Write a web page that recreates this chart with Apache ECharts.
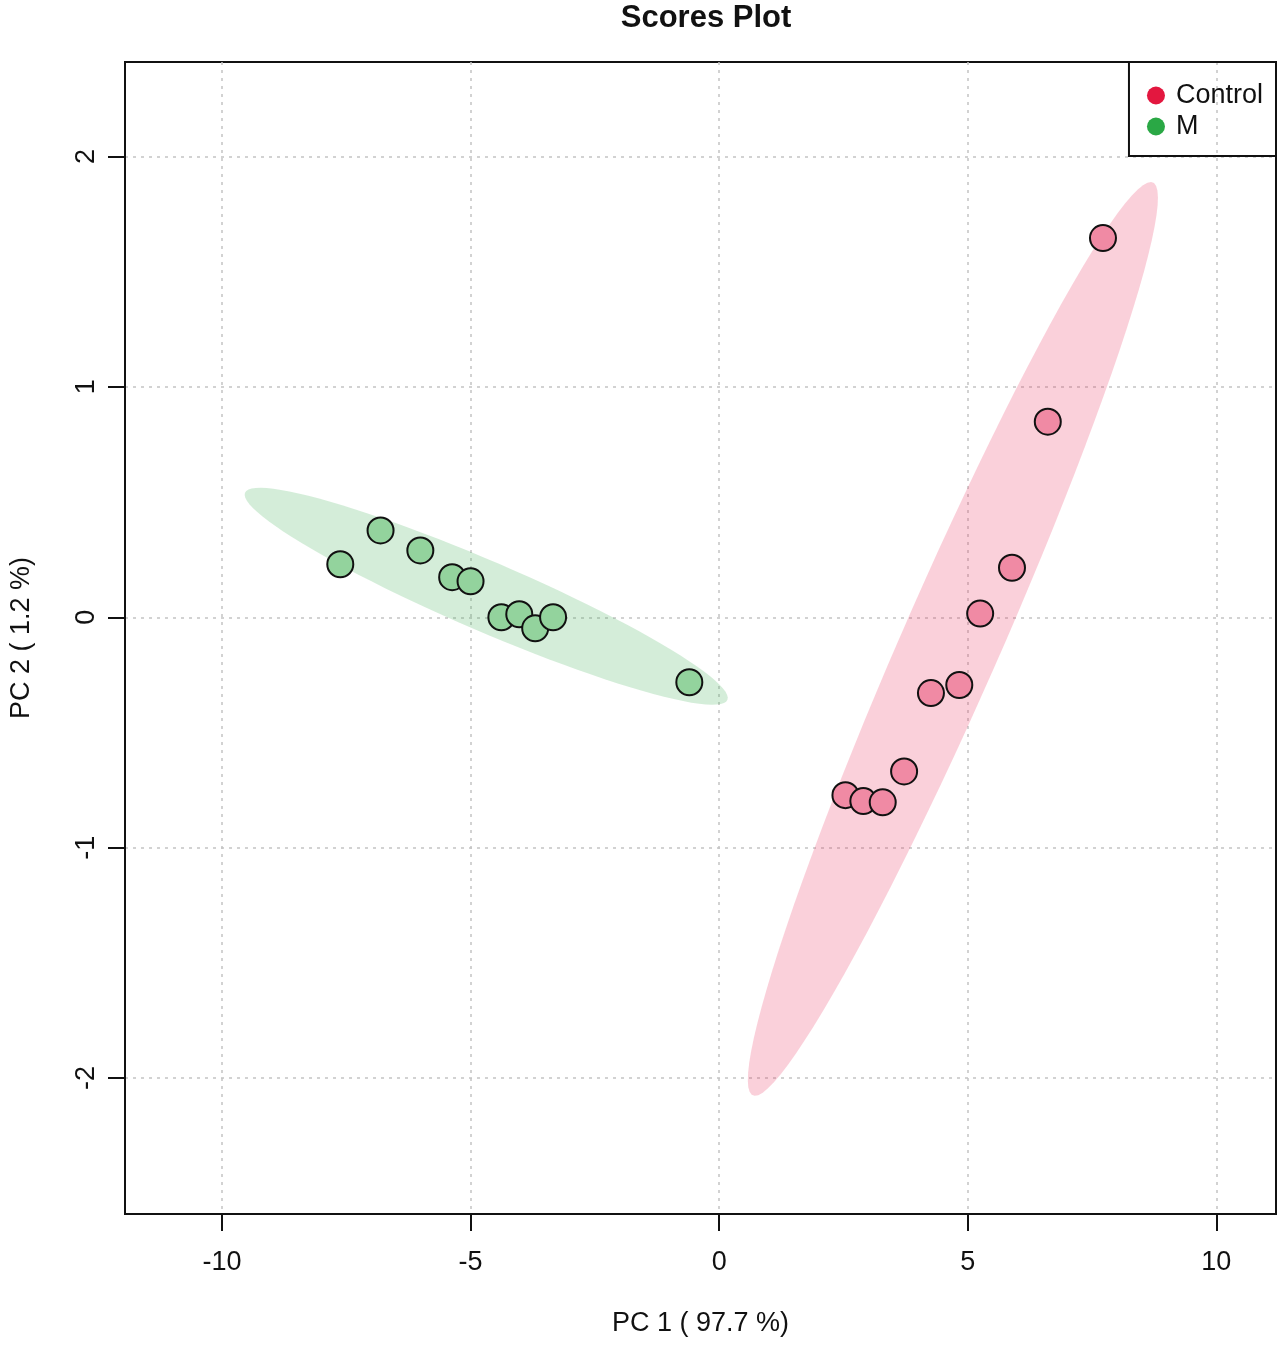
<!DOCTYPE html>
<html>
<head>
<meta charset="utf-8">
<title>Scores Plot</title>
<script src="https://cdn.jsdelivr.net/npm/echarts@6/dist/echarts.min.js"></script>
<style>
  html, body { margin: 0; padding: 0; background: #fff; }
  #chart { width: 1285px; height: 1357px; }
</style>
</head>
<body>
<div id="chart"></div>
<script>
// PCA scores
const groups = ['Control', 'M'];
const pc1Control = [7.72, 6.61, 5.89, 5.25, 4.83, 4.26, 3.72, 2.54, 2.90, 3.29];
const pc2Control = [1.646, 0.849, 0.215, 0.016, -0.294, -0.329, -0.669, -0.772, -0.798, -0.803];
const pc1M = [-7.62, -6.81, -6.01, -5.37, -5.00, -4.38, -4.02, -3.70, -3.34, -0.60];
const pc2M = [0.230, 0.377, 0.290, 0.174, 0.156, 0.000, 0.013, -0.048, 0.000, -0.282];
const xTicks = [-10, -5, 0, 5, 10];
const yTicks = [-2, -1, 0, 1, 2];

// 95% confidence ellipse, same parameterisation as R's ellipse::ellipse
function confEllipse(xs, ys) {
  const n = xs.length;
  const mx = xs.reduce((a, b) => a + b, 0) / n;
  const my = ys.reduce((a, b) => a + b, 0) / n;
  let sxx = 0, syy = 0, sxy = 0;
  for (let i = 0; i < n; i++) {
    sxx += (xs[i] - mx) * (xs[i] - mx);
    syy += (ys[i] - my) * (ys[i] - my);
    sxy += (xs[i] - mx) * (ys[i] - my);
  }
  sxx /= n - 1; syy /= n - 1; sxy /= n - 1;
  const t = Math.sqrt(5.991464547);
  const r = sxy / Math.sqrt(sxx * syy);
  const d = Math.acos(r);
  const pts = [];
  for (let k = 0; k < 100; k++) {
    const a = 2 * Math.PI * k / 100;
    pts.push([t * Math.sqrt(sxx) * Math.cos(a + d / 2) + mx,
              t * Math.sqrt(syy) * Math.cos(a - d / 2) + my]);
  }
  return pts;
}

function zip(xs, ys) {
  return xs.map((x, i) => [x, ys[i]]);
}

function ellipseSeries(name, pts, fill) {
  return {
    name: name,
    type: 'custom',
    silent: true,
    z: 1,
    data: [pts[0]],
    encode: { x: 0, y: 1 },
    renderItem: function (params, api) {
      return {
        type: 'polygon',
        shape: { points: pts.map(p => api.coord(p)) },
        style: { fill: fill }
      };
    }
  };
}

const chart = echarts.init(document.getElementById('chart'));
const font = 'Liberation Sans, Arial, sans-serif';

chart.setOption({
  animation: false,
  backgroundColor: '#fff',
  title: {
    text: 'Scores Plot',
    left: 701,
    textAlign: 'center',
    top: -2,
    textStyle: { fontFamily: font, fontSize: 31, fontWeight: 'bold', color: '#111' }
  },
  grid: {
    left: 121, right: 9, top: 62, bottom: 143,
    show: true, borderColor: '#111', borderWidth: 2, backgroundColor: 'transparent'
  },
  legend: {
    data: [
      { name: 'Control', itemStyle: { color: '#e3173f', borderWidth: 0 } },
      { name: 'M', itemStyle: { color: '#2aa845', borderWidth: 0 } }
    ],
    orient: 'vertical',
    right: 9,
    top: 62,
    icon: 'circle',
    itemWidth: 18,
    itemHeight: 18,
    itemGap: 4,
    padding: [20, 13, 16, 18],
    borderColor: '#111',
    borderWidth: 2,
    borderRadius: 0,
    textStyle: { fontFamily: font, fontSize: 27, color: '#111', padding: [0, 0, 0, 6] }
  },
  xAxis: {
    type: 'value',
    min: -11.95,
    max: 11.2,
    name: 'PC 1 ( 97.7 %)',
    nameLocation: 'middle',
    nameGap: 96,
    nameTextStyle: { fontFamily: font, fontSize: 27, color: '#111' },
    axisLine: { show: true, onZero: false, lineStyle: { color: '#111', width: 2 } },
    axisTick: { show: true, inside: false, length: 17, customValues: xTicks, lineStyle: { color: '#111', width: 2 } },
    axisLabel: { customValues: xTicks, margin: 35, fontFamily: font, fontSize: 27, color: '#111' },
    splitLine: { show: true, lineStyle: { color: '#c4c4c4', width: 1.5, type: [3, 5] } }
  },
  yAxis: {
    type: 'value',
    min: -2.59,
    max: 2.41,
    name: 'PC 2 ( 1.2 %)',
    nameLocation: 'middle',
    nameGap: 90,
    nameTextStyle: { fontFamily: font, fontSize: 27, color: '#111' },
    axisLine: { show: true, onZero: false, lineStyle: { color: '#111', width: 2 } },
    axisTick: { show: true, inside: false, length: 17, customValues: yTicks, lineStyle: { color: '#111', width: 2 } },
    axisLabel: { customValues: yTicks, rotate: 90, margin: 25, fontFamily: font, fontSize: 27, color: '#111' },
    splitLine: { show: true, lineStyle: { color: '#c4c4c4', width: 1.5, type: [3, 5] } }
  },
  series: [
    ellipseSeries('Control ellipse', confEllipse(pc1Control, pc2Control), 'rgba(233, 40, 85, 0.22)'),
    ellipseSeries('M ellipse', confEllipse(pc1M, pc2M), 'rgba(60, 175, 80, 0.22)'),
    {
      name: 'Control',
      type: 'scatter',
      z: 3,
      symbolSize: 26,
      data: zip(pc1Control, pc2Control),
      itemStyle: { color: '#f08aa4', borderColor: '#111', borderWidth: 2, opacity: 1 }
    },
    {
      name: 'M',
      type: 'scatter',
      z: 3,
      symbolSize: 26,
      data: zip(pc1M, pc2M),
      itemStyle: { color: '#93d39d', borderColor: '#111', borderWidth: 2, opacity: 1 }
    }
  ]
});
</script>
</body>
</html>
